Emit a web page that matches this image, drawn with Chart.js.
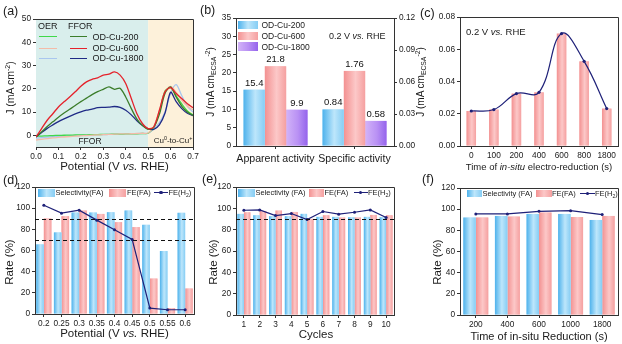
<!DOCTYPE html>
<html>
<head>
<meta charset="utf-8">
<title>OD-Cu FFOR panels</title>
<script src="https://cdn.jsdelivr.net/npm/chart.js@4.4.1/dist/chart.umd.min.js"></script>
<style>
  body { margin: 0; background: #fff; }
  #fig { position: relative; width: 622px; height: 344px; overflow: hidden; font-family: "Liberation Sans", Arial, sans-serif; color: #1a1a1a; }
  #fig canvas { position: absolute; }
  .lb { position: absolute; white-space: nowrap; line-height: 1; }
  .sw { position: absolute; }
  sub, sup { font-size: 68%; line-height: 0; }
  sub { vertical-align: -0.3em; }
  sup { vertical-align: 0.55em; }
</style>
</head>
<body>
<div id="fig">
  <canvas id="chartA"></canvas>
  <canvas id="chartB"></canvas>
  <canvas id="chartC"></canvas>
  <canvas id="chartD"></canvas>
  <canvas id="chartE"></canvas>
  <canvas id="chartF"></canvas>
</div>
<script>
/* OD-Cu catalysts: LSV, activity and formate selectivity panels */

// (a) LSV, J (mA cm-2) vs potential (V vs. RHE)
var potA = [0, 0.025, 0.05, 0.075, 0.1, 0.125, 0.15, 0.175, 0.2, 0.225, 0.25, 0.275, 0.3, 0.325, 0.35,
            0.375, 0.4, 0.425, 0.45, 0.475, 0.5, 0.525, 0.55, 0.575, 0.6, 0.625, 0.65, 0.675, 0.7];
var ffor200  = [-0.7, 1.5, 3.8, 5.8, 7.8, 9.6, 11.2, 12.8, 14.5, 16, 17.5, 18.8, 19.8, 20.8, 19.8,
                20.2, 16.5, 11.5, 7, 4.2, 2.6, 3.4, 9, 18, 20.8, 16.5, 12.5, 10, 8.5];
var ffor600  = [-0.7, 2.9, 6.5, 9.3, 12.2, 14.4, 16.5, 18.7, 21.1, 23, 24.1, 24.7, 25.9, 26.3, 27.3,
                25.9, 22.3, 15.8, 9.3, 5.0, 2.9, 3.6, 10.8, 18.7, 20.5, 18, 15.8, 13.6, 11.9];
var ffor1800 = [-0.7, 1.2, 3, 4.5, 5.9, 7.1, 8.2, 9.2, 10.1, 10.8, 11.3, 11.9, 12, 12.1, 12.4,
                12, 10.8, 8.8, 6.3, 4.2, 2.8, 2.6, 4.5, 9.5, 18.5, 14.5, 11.5, 9.5, 8.5];
var oer200   = [-0.4, -0.3, -0.2, -0.1, 0, 0.05, 0.1, 0.15, 0.2, 0.25, 0.3, 0.35, 0.4, 0.45, 0.5,
                0.55, 0.6, 0.65, 0.7, 0.8, 0.9, 3.5, 10, 19, 20.5, 17, 13.5, 10.5, 8.8];
var oer600   = [-2, -1.7, -1.4, -1.1, -0.9, -0.7, -0.5, -0.35, -0.2, -0.05, 0.1, 0.2, 0.3, 0.4, 0.5,
                0.6, 0.65, 0.7, 0.8, 0.9, 1.0, 3.8, 10.5, 18.5, 21, 18.5, 15, 12.5, 11];
var oer1800  = [-1.2, -1, -0.8, -0.6, -0.45, -0.3, -0.2, -0.1, 0, 0.1, 0.2, 0.3, 0.35, 0.4, 0.5,
                0.55, 0.6, 0.7, 0.75, 0.85, 0.9, 2.8, 5.5, 10, 18, 21.8, 17, 12.5, 10];
var bandEdges = [0, 0.5, 0.7];

// (b) activity at 0.2 V
var actCats = ['Apparent activity', 'Specific activity'];
var seriesB = ['OD-Cu-200', 'OD-Cu-600', 'OD-Cu-1800'];
var apparentJ = [15.4, 21.8, 9.9];
var specificJ = [0.0343, 0.0704, 0.0235];
var specificTxt = ['0.84', '1.76', '0.58'];

// (c) time of electro-reduction
var reduceTimes = ['0', '100', '200', '400', '600', '800', '1800'];
var reduceJ = [0.0217, 0.0226, 0.0325, 0.0333, 0.0697, 0.0525, 0.0232];

// (d) potential screen
var potD = ['0.2', '0.25', '0.3', '0.35', '0.4', '0.45', '0.5', '0.55', '0.6'];
var selD  = [65.8, 77.1, 95.9, 95.9, 96.2, 97.8, 84.3, 59.5, 95.6];
var feFaD = [90.3, 92.4, 97.8, 94.6, 86.8, 82.1, 33.5, 5.6, 24.1];
var feH2D = [102.8, 95.3, 98.1, 88.7, 79.6, 70.5, 5.6, 4, 4];
var guideD = [90, 70];

// (e) cycling
var cycles = ['1', '2', '3', '4', '5', '6', '7', '8', '9', '10'];
var selE  = [94.8, 93.5, 92.6, 92.6, 94.8, 92, 92, 91.6, 92, 91.6];
var feFaE = [96.3, 97.3, 97.9, 96.6, 90.1, 93.5, 91.4, 91.4, 93.8, 93.5];
var feH2E = [98.2, 98.5, 93.2, 95.1, 89.5, 97, 94.5, 96.3, 98.5, 91.4];
var guideE = [90];

// (f) reduction time
var redTimes = ['200', '400', '600', '1000', '1800'];
var selF  = [92.1, 93.6, 95.5, 95.5, 89.8];
var feFaF = [92.1, 93, 96.8, 92.6, 93.6];
var feH2F = [95.5, 95.5, 98, 98.6, 94.9];

var BLUE = ['#4eb2ec', '#bde6fb', '#86cdf4'];
var PINK = ['#f39191', '#fcc8c8', '#f5a0a0'];
var VIOLET = ['#d2b3f8', '#b991f4', '#9564ec'];
var NAVY = '#1e2078';

Chart.defaults.font.family = '"Liberation Sans", Arial, sans-serif';
Chart.defaults.font.size = 8.3;
Chart.defaults.color = '#1a1a1a';
Chart.defaults.animation = false;
Chart.defaults.plugins.legend.display = false;
Chart.defaults.plugins.tooltip.enabled = false;

// top/right edges of the plot box
Chart.register({
  id: 'frame',
  afterDraw: function (chart) {
    var a = chart.chartArea, c = chart.ctx;
    var t = Math.round(a.top - 0.5) + 0.5, r = Math.round(a.right - 0.5) + 0.5;
    c.save(); c.strokeStyle = '#333'; c.lineWidth = 1;
    c.beginPath(); c.moveTo(a.left, t); c.lineTo(r, t); c.lineTo(r, a.bottom); c.stroke();
    c.restore();
  }
});

// soft horizontal gradient on each bar, painted right after its dataset
Chart.register({
  id: 'barShade',
  afterDatasetDraw: function (chart, args) {
    var ds = chart.data.datasets[args.index];
    if (!ds.shade || args.meta.type !== 'bar') return;
    var c = chart.ctx;
    c.save();
    args.meta.data.forEach(function (bar, i) {
      if (ds.data[i] == null) return;
      var left = bar.x - bar.width / 2;
      var g = c.createLinearGradient(left, 0, left + bar.width, 0);
      g.addColorStop(0, ds.shade[0]); g.addColorStop(0.55, ds.shade[1]); g.addColorStop(1, ds.shade[2]);
      c.fillStyle = g;
      c.fillRect(left, Math.min(bar.y, bar.base), bar.width, Math.abs(bar.base - bar.y));
    });
    c.restore();
  }
});

Chart.register({
  id: 'bands',
  beforeDatasetsDraw: function (chart, args, opts) {
    if (!opts.colors) return;
    var a = chart.chartArea, x = chart.scales.x, c = chart.ctx;
    c.save();
    for (var i = 0; i < opts.colors.length; i++) {
      var x0 = x.getPixelForValue(opts.edges[i]), x1 = x.getPixelForValue(opts.edges[i + 1]);
      c.fillStyle = opts.colors[i];
      c.fillRect(x0, a.top, x1 - x0, a.bottom - a.top);
    }
    c.restore();
  }
});

Chart.register({
  id: 'guides',
  afterDatasetsDraw: function (chart, args, opts) {
    if (!opts.levels) return;
    var a = chart.chartArea, y = chart.scales.y, c = chart.ctx;
    c.save(); c.strokeStyle = '#111'; c.lineWidth = 1.1; c.setLineDash([4, 3]);
    opts.levels.forEach(function (v) {
      var py = Math.round(y.getPixelForValue(v)) + 0.5;
      c.beginPath(); c.moveTo(a.left, py); c.lineTo(a.right, py); c.stroke();
    });
    c.restore();
  }
});

Chart.register({
  id: 'barText',
  afterDatasetsDraw: function (chart) {
    var c = chart.ctx;
    c.save();
    c.font = '9.5px "Liberation Sans", Arial, sans-serif';
    c.fillStyle = '#111'; c.textAlign = 'center'; c.textBaseline = 'bottom';
    chart.data.datasets.forEach(function (ds, di) {
      if (!ds.valueText) return;
      chart.getDatasetMeta(di).data.forEach(function (bar, i) {
        if (ds.valueText[i] != null) c.fillText(ds.valueText[i], bar.x, bar.y - 2);
      });
    });
    c.restore();
  }
});

function place(id, box) {
  var cv = document.getElementById(id);
  cv.width = box[2]; cv.height = box[3];
  cv.style.left = box[0] + 'px'; cv.style.top = box[1] + 'px';
  return cv;
}

function pad(box, area, rightAxis) {
  return { top: area[1] - box[1], left: 0, bottom: 0, right: rightAxis ? 0 : box[0] + box[2] - area[2] };
}

// side: 'x' bottom, 'y' left, 'r' right; sizes fixed so the plot box lands on area
function axis(side, box, area, extra) {
  var o = {
    border: { color: '#333', width: 1 },
    afterFit: function (s) {
      if (side === 'x') s.height = box[1] + box[3] - area[3];
      else if (side === 'y') s.width = area[0] - box[0];
      else s.width = box[0] + box[2] - area[2];
    }
  };
  for (var k in extra) o[k] = extra[k];
  o.grid = Object.assign({ drawOnChartArea: false, drawTicks: true, tickLength: 3, color: '#333' }, extra.grid || {});
  o.ticks = Object.assign({ padding: 2, color: '#1a1a1a', autoSkip: false, maxRotation: 0, minRotation: 0 }, extra.ticks || {});
  return o;
}

function curve(ys, color) {
  return {
    data: potA.map(function (p, i) { return { x: p, y: ys[i] }; }),
    borderColor: color, borderWidth: 1.3, pointRadius: 0, tension: 0.3, fill: false
  };
}

// ---- (a)
var boxA = [0, 0, 205, 178], areaA = [36, 19, 193, 147];
new Chart(place('chartA', boxA), {
  type: 'line',
  data: { datasets: [
    curve(ffor600, '#e5222b'), curve(ffor200, '#3c7d2b'), curve(ffor1800, '#1f2a86'),
    curve(oer600, '#f4bba8'), curve(oer200, '#3fd84a'), curve(oer1800, '#a9c6ef')
  ] },
  options: {
    responsive: false,
    layout: { padding: pad(boxA, areaA) },
    scales: {
      x: axis('x', boxA, areaA, { type: 'linear', min: 0, max: 0.7,
        ticks: { stepSize: 0.1, callback: function (v) { return v.toFixed(1); } } }),
      y: axis('y', boxA, areaA, { min: -5, max: 50,
        ticks: { stepSize: 10, callback: function (v) { return v % 10 === 0 ? v : null; } } })
    },
    plugins: { bands: { edges: bandEdges, colors: ['#d9eeec', '#fdf1da'] } }
  }
});

// ---- (b)
var boxB = [200, 0, 222, 178], areaB = [236, 18, 394, 146];
var shadesB = [BLUE, PINK, VIOLET];
var dsB = [];
[apparentJ, specificJ].forEach(function (vals, cat) {
  seriesB.forEach(function (name, k) {
    var data = [null, null], txt = [null, null];
    data[cat] = vals[k];
    txt[cat] = cat === 0 ? String(apparentJ[k]) : specificTxt[k];
    dsB.push({ label: name, data: data, valueText: txt, yAxisID: cat === 0 ? 'y' : 'y1',
               backgroundColor: shadesB[k][1], shade: shadesB[k], skipNull: true,
               categoryPercentage: 0.81, barPercentage: 1 });
  });
});
new Chart(place('chartB', boxB), {
  type: 'bar',
  data: { labels: actCats, datasets: dsB },
  options: {
    responsive: false,
    layout: { padding: pad(boxB, areaB, true) },
    scales: {
      x: axis('x', boxB, areaB, { grid: { offset: false }, ticks: { font: { size: 10.6 }, padding: 4 } }),
      y: axis('y', boxB, areaB, { min: 0, max: 35, ticks: { stepSize: 5 } }),
      y1: axis('r', boxB, areaB, { position: 'right', min: 0, max: 0.12,
        ticks: { stepSize: 0.03, callback: function (v) { return v.toFixed(2); } } })
    }
  }
});

// ---- (c)
var boxC = [415, 0, 207, 178], areaC = [460, 17, 618, 146];
new Chart(place('chartC', boxC), {
  type: 'bar',
  data: { labels: reduceTimes, datasets: [
    { type: 'line', data: reduceJ, borderColor: NAVY, borderWidth: 1.2, tension: 0.4,
      pointRadius: 1.6, pointBackgroundColor: NAVY, pointBorderWidth: 0, order: 0 },
    { data: reduceJ, backgroundColor: PINK[1], shade: PINK, barPercentage: 0.42, categoryPercentage: 1, order: 1 }
  ] },
  options: {
    responsive: false,
    layout: { padding: pad(boxC, areaC) },
    scales: {
      x: axis('x', boxC, areaC, { grid: { offset: false } }),
      y: axis('y', boxC, areaC, { min: 0, max: 0.08,
        ticks: { stepSize: 0.02, callback: function (v) { return v.toFixed(2); } } })
    }
  }
});

// ---- (d)(e)(f)
function rateChart(id, box, area, cats, sel, feFa, feH2, levels, catPct) {
  return new Chart(place(id, box), {
    type: 'bar',
    data: { labels: cats, datasets: [
      { type: 'line', label: 'FE(H2)', data: feH2, borderColor: NAVY, borderWidth: 1.2, tension: 0,
        pointRadius: 1.5, pointBackgroundColor: NAVY, pointBorderWidth: 0, order: 0 },
      { label: 'Selectivity (FA)', data: sel, backgroundColor: BLUE[1], shade: BLUE, order: 1 },
      { label: 'FE(FA)', data: feFa, backgroundColor: PINK[1], shade: PINK, order: 1 }
    ] },
    options: {
      responsive: false,
      layout: { padding: pad(box, area) },
      datasets: { bar: { categoryPercentage: catPct, barPercentage: 1 } },
      scales: {
        x: axis('x', box, area, { grid: { offset: false } }),
        y: axis('y', box, area, { min: 0, max: 120, ticks: { stepSize: 20 } })
      },
      plugins: { guides: { levels: levels } }
    }
  });
}
rateChart('chartD', [0, 172, 205, 172], [35, 187, 194, 314], potD, selD, feFaD, feH2D, guideD, 0.86);
rateChart('chartE', [205, 172, 205, 172], [236, 187, 394, 315], cycles, selE, feFaE, feH2E, guideE, 0.82);
rateChart('chartF', [415, 172, 207, 172], [460, 188, 618, 315], redTimes, selF, feFaF, feH2F, null, 0.79);

// ---- text, legends
var fig = document.getElementById('fig');
function put(html, x, y, size, how) {
  var d = document.createElement('div');
  d.className = 'lb';
  d.innerHTML = html;
  d.style.left = x + 'px'; d.style.top = y + 'px'; d.style.fontSize = size + 'px';
  d.style.transform = how === 'c' ? 'translate(-50%,-50%)'
                    : how === 'v' ? 'translate(-50%,-50%) rotate(-90deg)' : 'translate(0,-50%)';
  fig.appendChild(d);
}
function swatch(x, y, w, h, cols) {
  var d = document.createElement('div');
  d.className = 'sw';
  d.style.cssText = 'left:' + x + 'px;top:' + (y - h / 2) + 'px;width:' + w + 'px;height:' + h + 'px;' +
    'background:linear-gradient(90deg,' + cols.join(',') + ');';
  fig.appendChild(d);
}
function legLine(x1, x2, y, color, dot) {
  var d = document.createElement('div');
  d.className = 'sw';
  d.style.cssText = 'left:' + x1 + 'px;top:' + (y - 0.7) + 'px;width:' + (x2 - x1) + 'px;height:1.4px;background:' + color;
  fig.appendChild(d);
  if (dot) {
    var p = document.createElement('div');
    p.className = 'sw';
    p.style.cssText = 'left:' + ((x1 + x2) / 2 - 1.6) + 'px;top:' + (y - 1.6) + 'px;width:3.2px;height:3.2px;border-radius:50%;background:' + color;
    fig.appendChild(p);
  }
}

put('(a)', 3, 10.5, 12.5); put('(b)', 200, 9.5, 12.5); put('(c)', 420, 13, 12.5);
put('(d)', 3, 180, 12.5); put('(e)', 202, 179, 12.5); put('(f)', 422, 179, 12.5);

// (a)
put('Potential (V <i>vs.</i> RHE)', 114.5, 167, 11.5, 'c');
put('J (mA cm<sup>-2</sup>)', 10, 88, 10.5, 'v');
put('OER', 38, 26, 9); put('FFOR', 68, 26, 9);
var rowsA = [36.7, 48.3, 58.3];
var oerCols = ['#3fd84a', '#f4bba8', '#a9c6ef'], fforCols = ['#3c7d2b', '#e5222b', '#1f2a86'];
seriesB.forEach(function (name, k) {
  legLine(39, 57, rowsA[k], oerCols[k]);
  legLine(70, 87, rowsA[k], fforCols[k]);
  put(name, 92.5, rowsA[k], 9);
});
put('FFOR', 90, 140.5, 8.5, 'c');
put('Cu<sup>0</sup>-to-Cu<sup>+</sup>', 173, 140.5, 8, 'c');

// (b)
put('J (mA cm<sub>ECSA</sub><sup>-2</sup>)', 211, 82, 10, 'v');
var rowsB = [25, 36, 46.7];
seriesB.forEach(function (name, k) {
  swatch(238, rowsB[k], 20, 8.6, shadesB[k]);
  put(name, 261.5, rowsB[k], 8.5);
});
put('0.2 V <i>vs.</i> RHE', 329, 35.5, 9);

// (c)
put('0.2 V <i>vs.</i> RHE', 466, 32, 9.5);
put('J (mA cm<sub>ECSA</sub><sup>-2</sup>)', 420.5, 82, 10, 'v');
put('Time of <i>in-situ</i> electro-reduction (s)', 539, 166.5, 9.5, 'c');

// (d)(e)(f)
put('Potential (V <i>vs.</i> RHE)', 114.5, 334, 11.5, 'c');
put('Cycles', 316, 335, 11.5, 'c');
put('Time of in-situ Reduction (s)', 539, 336, 11, 'c');
put('Rate (%)', 10, 262, 11.5, 'v');
put('Rate (%)', 213.5, 262, 11.5, 'v');
put('Rate (%)', 438, 262, 11.5, 'v');

function rateLegend(y, xs, selText) {
  swatch(xs[0], y, xs[1] - xs[0], 7.6, BLUE);
  put(selText, xs[1] + 0.5, y, 7.5);
  swatch(xs[2], y, xs[3] - xs[2], 7.6, PINK);
  put('FE(FA)', xs[3] + 0.5, y, 7.5);
  legLine(xs[4], xs[5], y, NAVY, true);
  put('FE(H<sub>2</sub>)', xs[5] + 0.5, y, 7.5);
}
rateLegend(192.8, [37.5, 55, 109.3, 126.5, 154, 168], 'Selectivity(FA)');
rateLegend(192.8, [238, 255, 309, 324, 354, 367.5], 'Selectivity (FA)');
rateLegend(193.7, [467, 482, 535.5, 551.5, 580, 594.5], 'Selectivity (FA)');
</script>
</body>
</html>
